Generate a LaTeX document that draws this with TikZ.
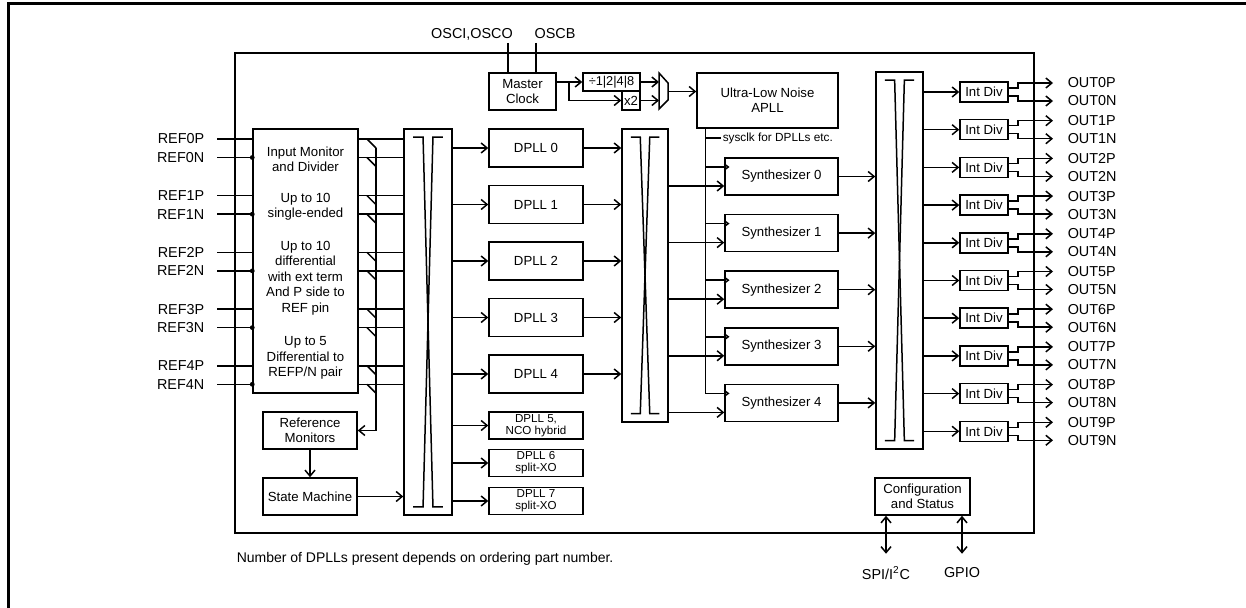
\documentclass[tikz,border=0pt]{standalone}
\usepackage{fontspec}
\setmainfont{Liberation Sans}
\usetikzlibrary{arrows.meta,calc}

\tikzset{
  txt/.style={inner sep=0pt, align=center, font=\fontsize{6.6}{7.7}\selectfont},
  blk/.style={txt, draw, line width=0.75pt},
  pin/.style={inner sep=1pt, font=\fontsize{7.2}{8}\selectfont},
  arr/.style={-{Straight Barb[length=3pt,width=5pt]}},
  dbl/.style={{Straight Barb[length=3pt,width=5pt]}-{Straight Barb[length=3pt,width=5pt]}},
}

\begin{document}
\begin{tikzpicture}[x=0.5pt,y=-0.5pt,line width=0.75pt]
\useasboundingbox (0,0) rectangle (1246,608);
% outer frame and chip
\draw[line width=1.5pt] (8,608) -- (8,4) -- (1246,4);
\node[draw, line width=1pt, minimum width=399.5pt, minimum height=240pt] (chip) at (634.5,293) {};

% input side
\node[blk, minimum width=52.5pt, minimum height=132pt] (inmon) at (305.5,261) {};
\node[txt] (inmonA) at (305.5,159.5) {Input Monitor\\and Divider};
\node[txt] (inmonB) at (305.5,207) {Up to 10\\single-ended};
\node[txt] (inmonC) at (305.5,278) {Up to 10\\differential\\with ext term\\And P side to\\REF pin};
\node[txt] (inmonD) at (305.5,358) {Up to 5\\Differential to\\REFP/N pair};
\node[blk, minimum width=47pt, minimum height=18.5pt] (refmon) at (310,430.5) {Reference\\Monitors};
\node[blk, minimum width=47pt, minimum height=18.5pt] (statem) at (310,496.5) {State Machine};

% crossbars
\node[draw, minimum width=24pt, minimum height=193pt] (xbarA) at (428,322) {};
\node[draw, minimum width=23pt, minimum height=146.5pt] (xbarB) at (645,275.5) {};
\node[draw, minimum width=23.5pt, minimum height=188.5pt] (xbarC) at (899.5,260.5) {};
\foreach \n in {xbarA,xbarB,xbarC}{
  \draw ($(\n.north west)!0.2!(\n.north east)+(0,9)$) -- ($(\n.north west)!0.4!(\n.north east)+(0,9)$)
     -- ($(\n.south west)!0.6!(\n.south east)+(0,-9)$) -- ($(\n.south west)!0.8!(\n.south east)+(0,-9)$);
  \draw ($(\n.north west)!0.8!(\n.north east)+(0,9)$) -- ($(\n.north west)!0.6!(\n.north east)+(0,9)$)
     -- ($(\n.south west)!0.4!(\n.south east)+(0,-9)$) -- ($(\n.south west)!0.2!(\n.south east)+(0,-9)$);
}

% DPLLs
\foreach \i in {0,...,4}
  \node[blk, minimum width=47pt, minimum height=19pt] (dpll\i) at (536,{148+56.5*\i}) {DPLL \i};
\node[blk, font=\fontsize{5.8}{6}\selectfont, minimum width=47pt, minimum height=13.5pt] (dpll5) at (536,425.5) {DPLL 5,\\NCO hybrid};
\node[blk, font=\fontsize{5.8}{6}\selectfont, minimum width=47pt, minimum height=13.5pt] (dpll6) at (536,463) {DPLL 6\\split-XO};
\node[blk, font=\fontsize{5.8}{6}\selectfont, minimum width=47pt, minimum height=13.5pt] (dpll7) at (536,501) {DPLL 7\\split-XO};

% clock path
\node[blk, minimum width=33.5pt, minimum height=18.5pt] (mclk) at (522.5,91.5) {Master\\Clock};
\node[pin] (osca) at (472,34) {OSCI,OSCO};
\node[pin] (oscb) at (555,34) {OSCB};
\node[blk, minimum width=28.5pt, minimum height=9pt, font=\fontsize{6.4}{7}\selectfont] (divbox) at (611.5,82) {÷1|2|4|8};
\node[blk, minimum width=9pt, minimum height=9.5pt] (x2box) at (631,100.5) {x2};
\node[blk, minimum width=70.5pt, minimum height=27.5pt] (apll) at (767.5,100.5) {Ultra-Low Noise\\APLL};
\coordinate (muxa) at (659,73);
\coordinate (muxb) at (668,83);
\coordinate (muxc) at (668,100);
\coordinate (muxd) at (659,109);
\draw (muxa) -- (muxb) -- (muxc) -- (muxd) -- cycle;
\coordinate (muxout) at ($(muxb)!0.5!(muxc)$);

\coordinate (oscain) at (508,43);
\coordinate (oscbin) at (536,43);
\draw (oscain) -- (oscain |- mclk.north);
\draw (oscbin) -- (oscbin |- mclk.north);
\coordinate (mclkout) at ([yshift=4.75pt]mclk.east);
\coordinate (split) at (569,82);
\draw[arr] (mclkout) -- (divbox.west);
\draw[arr] (split) |- (x2box.west);
\draw[arr] (divbox.east) -- (divbox.east -| muxa);
\draw[arr] (x2box.east) -- (x2box.east -| muxa);
\draw[arr] (muxout) -- (muxout -| apll.west);

% synthesizers
\coordinate (sysbus) at ([xshift=4.5pt]apll.south west);
\node[anchor=west, inner sep=0.5pt, font=\fontsize{5.9}{6.5}\selectfont] (sysclk) at (721,138) {sysclk for DPLLs etc.};
\draw (sysclk.west -| sysbus) -- (sysclk.west);
\foreach \i in {0,...,4}{
  \node[blk, minimum width=56.5pt, minimum height=18.5pt] (synth\i) at (781.5,{176.5+56.6*\i}) {Synthesizer \i};
  \coordinate (sin\i) at ([yshift=-4.75pt]synth\i.west);
  \coordinate (sck\i) at ([yshift=4.75pt]synth\i.west);
  \draw[arr] (sin\i -| xbarB.east) -- (sin\i);
  \draw (sck\i -| sysbus) -- (sck\i);
  \draw (sck\i) ++(0,-3) -- ++(4,3) -- ++(-4,3);
  \draw[arr] (synth\i.east) -- (synth\i.east -| xbarC.west);
}
\draw (sysbus) |- (sck4);

% inputs
\foreach \i in {0,...,4}{
  \pgfmathsetmacro\yp{139+56.7*\i}
  \pgfmathsetmacro\yn{\yp+18.5}
  \node[pin, anchor=east] (refp\i) at (207,\yp) {REF\i P};
  \node[pin, anchor=east] (refn\i) at (207,\yn) {REF\i N};
  \draw ([xshift=5pt]refp\i.east) -- (refp\i.east -| inmon.west);
  \draw ([xshift=5pt]refn\i.east) -- (refn\i.east -| inmon.west);
  \fill (refn\i.east -| inmon.west) circle (1.2pt);
  \draw (refp\i.east -| inmon.east) -- (refp\i.east -| xbarA.west);
  \draw (refn\i.east -| inmon.east) -- (refn\i.east -| xbarA.west);
  \draw (367,\yp) -- (376,{\yp+9});
  \draw (367,\yn) -- (376,{\yn+9});
}
\draw[arr] (376,148) |- (refmon.east);
\draw[arr] (refmon.south) -- (statem.north);
\draw[arr] (statem.east) -- (statem.east -| xbarA.west);

% DPLL connections
\foreach \i in {0,...,7}
  \draw[arr] (dpll\i.west -| xbarA.east) -- (dpll\i.west);
\foreach \i in {0,...,4}
  \draw[arr] (dpll\i.east) -- (dpll\i.east -| xbarB.west);

% outputs
\foreach \i in {0,...,9}{
  \pgfmathsetmacro\yc{92+37.7*\i}
  \node[blk, minimum width=24pt, minimum height=10pt] (idiv\i) at (984,\yc) {Int Div};
  \draw[arr] (idiv\i.west -| xbarC.east) -- (idiv\i.west);
  \node[pin, anchor=west] (outp\i) at (1065,{\yc-9}) {OUT\i P};
  \node[pin, anchor=west] (outn\i) at (1065,{\yc+9}) {OUT\i N};
  \draw[arr] ([yshift=2pt]idiv\i.east) -- ++(9,0) |- ([xshift=-6pt]outp\i.west);
  \draw[arr] ([yshift=-2pt]idiv\i.east) -- ++(9,0) |- ([xshift=-6pt]outn\i.west);
}

% configuration
\node[blk, minimum width=47.5pt, minimum height=18.5pt] (config) at (922.5,496.5) {Configuration\\and Status};
\node[pin] (spi) at (886,573) {SPI/I\textsuperscript{2}C};
\node[pin] (gpio) at (962,573) {GPIO};
\draw[dbl] (config.south -| spi) -- ++(0,38);
\draw[dbl] (config.south -| gpio) -- ++(0,38);

\node[txt, anchor=west, font=\fontsize{7}{8}\selectfont] (note) at (236,559) {Number of DPLLs present depends on ordering part number.};
\end{tikzpicture}
\end{document}
